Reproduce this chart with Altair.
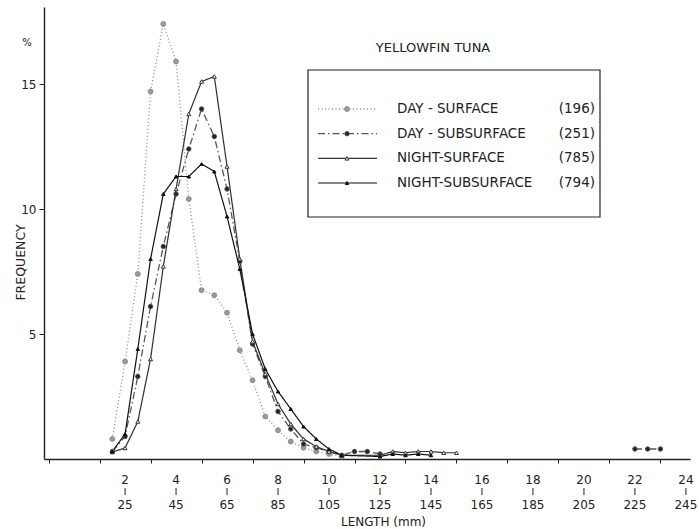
import altair as alt
import pandas as pd

# ---------------- data ----------------
LENGTH_CLASS = [1.5, 2.0, 2.5, 3.0, 3.5, 4.0, 4.5, 5.0, 5.5, 6.0,
                6.5, 7.0, 7.5, 8.0, 8.5, 9.0, 9.5, 10.0, 10.5]

DAY_SURFACE = [0.8, 3.9, 7.4, 14.7, 17.4, 15.9, 10.4, 6.75, 6.55, 5.85,
               4.35, 3.15, 1.7, 1.15, 0.7, 0.45, 0.3, 0.2, 0.1]
DAY_SUBSURFACE = [0.3, 0.9, 3.3, 6.1, 8.5, 10.6, 12.4, 14.0, 12.9, 10.8,
                  7.9, 4.6, 3.3, 1.9, 1.2, 0.6, 0.45, 0.3, 0.15]
NIGHT_SURFACE = [0.28, 0.44, 1.5, 4.0, 7.7, 10.8, 13.8, 15.1, 15.3, 11.7,
                 8.0, 4.7, 3.4, 2.2, 1.4, 0.8, 0.5, 0.3, 0.15]
NIGHT_SUBSURFACE = [0.3, 1.0, 4.4, 8.0, 10.6, 11.3, 11.3, 11.8, 11.5, 9.7,
                    7.6, 5.0, 3.6, 2.7, 2.0, 1.3, 0.8, 0.4, 0.15]

DS_TAIL_X = [11.0, 11.5, 12.0]
DS_TAIL = [0.3, 0.3, 0.2]
DS_FAR_X = [22.0, 22.5, 23.0]
DS_FAR = [0.4, 0.4, 0.4]
NS_TAIL_X = [12.0, 12.5, 13.0, 13.5, 14.0, 14.5, 15.0]
NS_TAIL = [0.15, 0.3, 0.25, 0.3, 0.3, 0.25, 0.25]
NSS_TAIL_X = [12.0, 12.5, 13.0, 13.5, 14.0]
NSS_TAIL = [0.1, 0.2, 0.15, 0.2, 0.15]

SERIES = ["DAY - SURFACE", "DAY - SUBSURFACE", "NIGHT-SURFACE", "NIGHT-SUBSURFACE"]
COUNTS = ["(196)", "(251)", "(785)", "(794)"]

TICK_TOP = [2, 4, 6, 8, 10, 12, 14, 16, 18, 20, 22, 24]
TICK_BOTTOM = [25, 45, 65, 85, 105, 125, 145, 165, 185, 205, 225, 245]

# ---------------- build tables ----------------
rows = []
def add(series, xs, ys, seg):
    for x, y in zip(xs, ys):
        rows.append({"series": series, "len": x, "freq": y, "seg": f"{series}-{seg}"})

add(SERIES[0], LENGTH_CLASS, DAY_SURFACE, 0)
add(SERIES[1], LENGTH_CLASS + DS_TAIL_X, DAY_SUBSURFACE + DS_TAIL, 0)
add(SERIES[1], DS_FAR_X, DS_FAR, 1)
add(SERIES[2], LENGTH_CLASS + NS_TAIL_X, NIGHT_SURFACE + NS_TAIL, 0)
add(SERIES[3], LENGTH_CLASS + NSS_TAIL_X, NIGHT_SUBSURFACE + NSS_TAIL, 0)
df = pd.DataFrame(rows)

ticks_df = pd.DataFrame({"len": TICK_TOP, "top": TICK_TOP, "bottom": TICK_BOTTOM})

leg = pd.DataFrame({"series": SERIES, "count": COUNTS, "row": list(range(len(SERIES)))})
one = pd.DataFrame({"a": [0]})

FONT = "DejaVu Sans"
INK = "#222222"
dash_scale = alt.Scale(domain=SERIES, range=[[1, 2.5], [7, 3, 1.5, 3], [1, 0], [1, 0]])
width_scale = alt.Scale(domain=SERIES, range=[1.3, 1.2, 1.1, 2.2])
color_scale = alt.Scale(domain=SERIES, range=["#8c8c8c", "#555555", "#333333", "#111111"])
shape_scale = alt.Scale(domain=SERIES, range=["circle", "circle", "triangle-up", "triangle-up"])
fill_scale = alt.Scale(domain=SERIES, range=["#9a9a9a", "#222222", "#ffffff", "#111111"])
size_scale = alt.Scale(domain=SERIES, range=[24, 12, 20, 24])

XDOM = [-1.18, 24.16]
YDOM = [0, 18.08]

x_enc = alt.X(
    "len:Q",
    scale=alt.Scale(domain=XDOM, nice=False, zero=False),
    axis=alt.Axis(
        values=[i / 2 for i in range(-2, 49)],
        labels=False,
        tickSize=4, grid=False,
        title="LENGTH (mm)", titleX=339, titleY=62, titleAlign="center",
        titleBaseline="middle", titleFontWeight="normal", titleFontSize=12,
    ),
)
y_enc = alt.Y(
    "freq:Q",
    scale=alt.Scale(domain=YDOM, nice=False),
    axis=alt.Axis(
        values=[5, 10, 15], tickSize=5, labelPadding=3, grid=False,
        title="FREQUENCY", titleX=-24, titleY=255, titleAngle=-90,
        titleAlign="center", titleBaseline="middle",
        titleFontWeight="normal", titleFontSize=12.5,
    ),
)

lines = alt.Chart(df).mark_line().encode(
    x=x_enc, y=y_enc,
    detail="seg:N",
    strokeDash=alt.StrokeDash("series:N", scale=dash_scale, legend=None),
    strokeWidth=alt.StrokeWidth("series:N", scale=width_scale, legend=None),
    color=alt.Color("series:N", scale=color_scale, legend=None),
)
points = alt.Chart(df).mark_point(filled=True, strokeWidth=1, opacity=1).encode(
    x=alt.X("len:Q"), y=alt.Y("freq:Q"),
    shape=alt.Shape("series:N", scale=shape_scale, legend=None),
    fill=alt.Fill("series:N", scale=fill_scale, legend=None),
    stroke=alt.Stroke("series:N", scale=color_scale, legend=None),
    size=alt.Size("series:N", scale=size_scale, legend=None),
)
lab_top = alt.Chart(ticks_df).mark_text(
    font=FONT, fontSize=12, baseline="middle", align="center", color=INK,
).encode(x=alt.X("len:Q"), y=alt.value(473), text="top:N")
lab_bar = alt.Chart(ticks_df).mark_rule(color=INK, strokeWidth=1).encode(
    x=alt.X("len:Q"), y=alt.value(481), y2=alt.value(488))
lab_bot = alt.Chart(ticks_df).mark_text(
    font=FONT, fontSize=12, baseline="middle", align="center", color=INK,
).encode(x=alt.X("len:Q"), y=alt.value(498), text="bottom:N")
main = alt.layer(lines, points, lab_top, lab_bar, lab_bot)

# ---------------- legend block ----------------
ly = alt.Y("row:Q", scale=alt.Scale(domain=[0, 3], range=[102, 176]), axis=None)
box = alt.Chart(one).mark_rect(fill="white", stroke=INK, strokeWidth=1.2).encode(
    x=alt.value(264), x2=alt.value(556), y=alt.value(63), y2=alt.value(210))
title = alt.Chart(one).mark_text(font=FONT, fontSize=13, color=INK).encode(
    x=alt.value(389), y=alt.value(41), text=alt.value("YELLOWFIN   TUNA"))
pct = alt.Chart(one).mark_text(font=FONT, fontSize=10, color=INK).encode(
    x=alt.value(-17), y=alt.value(36), text=alt.value("%"))
leg_lines = alt.Chart(leg).mark_rule().encode(
    x=alt.value(274), x2=alt.value(333), y=ly,
    strokeDash=alt.StrokeDash("series:N", scale=dash_scale, legend=None),
    strokeWidth=alt.StrokeWidth("series:N", scale=width_scale, legend=None),
    color=alt.Color("series:N", scale=color_scale, legend=None),
)
leg_pts = alt.Chart(leg).mark_point(filled=True, strokeWidth=1, opacity=1).encode(
    x=alt.value(303), y=ly,
    shape=alt.Shape("series:N", scale=shape_scale, legend=None),
    fill=alt.Fill("series:N", scale=fill_scale, legend=None),
    stroke=alt.Stroke("series:N", scale=color_scale, legend=None),
    size=alt.Size("series:N", scale=size_scale, legend=None),
)
leg_lab = alt.Chart(leg).mark_text(font=FONT, fontSize=13.5, align="left", baseline="middle", color=INK).encode(
    x=alt.value(353), y=ly, text="series:N")
leg_cnt = alt.Chart(leg).mark_text(font=FONT, fontSize=13.5, align="right", baseline="middle", color=INK).encode(
    x=alt.value(551), y=ly, text="count:N")
legend = alt.layer(box, title, pct, leg_lines, leg_pts, leg_lab, leg_cnt)

chart = alt.layer(main, legend).resolve_scale(y="independent").properties(
    width=646, height=452,
    padding={"left": 44, "top": 7, "right": 9, "bottom": 70},
    autosize=alt.AutoSizeParams(type="none"),
    background="white",
).configure_view(stroke=None).configure_axis(
    labelFont=FONT, titleFont=FONT, labelFontSize=12, labelColor=INK,
    titleColor=INK, domainColor=INK, tickColor=INK,
    domainWidth=1.4, tickWidth=1,
)

chart.save("out.html", embed_options={"renderer": "svg", "actions": False})
